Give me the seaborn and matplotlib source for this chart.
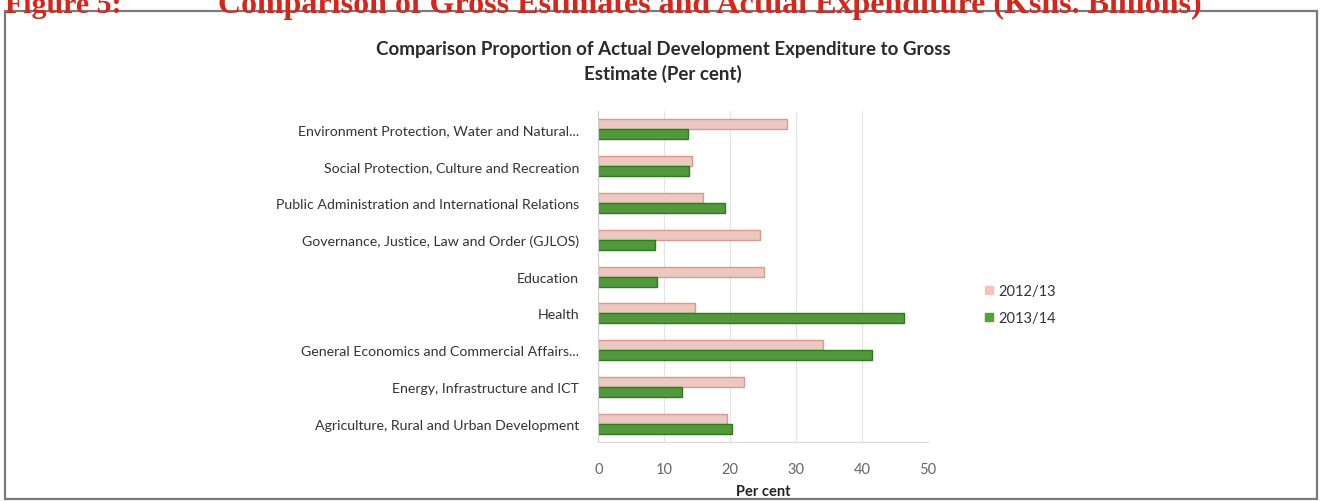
import numpy as np
import pandas as pd
import matplotlib
matplotlib.use('Agg')
import matplotlib.pyplot as plt
import seaborn as sns
from matplotlib.patches import Rectangle
from matplotlib.lines import Line2D

# data (per cent)
sectors = [
    "Environment Protection, Water and Natural...",
    "Social Protection, Culture and Recreation",
    "Public Administration and International Relations",
    "Governance, Justice, Law and Order (GJLOS)",
    "Education",
    "Health",
    "General Economics and Commercial Affairs...",
    "Energy, Infrastructure and ICT",
    "Agriculture, Rural and Urban Development",
]
years = ["2012/13", "2013/14"]
vals_1213 = [28.6, 14.2, 15.9, 24.5, 25.1, 14.7, 34.1, 22.1, 19.5]
vals_1314 = [13.6, 13.8, 19.2, 8.6, 8.9, 46.4, 41.5, 12.7, 20.2]
xticks = [0, 10, 20, 30, 40, 50]

pink = "#F5C3B8"
pink_edge = "#D8988C"
green = "#4AA82E"
green_edge = "#2E7A1C"

df = pd.DataFrame({
    "sector": sectors * 2,
    "year": [years[0]] * len(sectors) + [years[1]] * len(sectors),
    "value": vals_1213 + vals_1314,
})

sns.set_style("white")
plt.rcParams['font.family'] = ['Lato', 'DejaVu Sans']

fig = plt.figure(figsize=(13.24, 5.02), dpi=100)
ax = fig.add_axes([0.452, 0.117, 0.249, 0.66])

sns.barplot(data=df, x="value", y="sector", hue="year", hue_order=years,
            order=sectors, orient="h", palette=[pink, green], width=0.54,
            ax=ax, legend=False, errorbar=None)

# edges to give the bars a bit of the bevelled look
for patch in ax.patches:
    fc = patch.get_facecolor()
    patch.set_edgecolor(pink_edge if fc[1] > 0.6 else green_edge)
    patch.set_linewidth(1.0)

ax.set_xlim(0, 50)
ax.set_xticks(xticks)
ax.set_xticklabels([str(t) for t in xticks], fontsize=10.5, color="#666666")
ax.tick_params(axis="x", length=0, pad=14)
ax.tick_params(axis="y", length=0, pad=14, labelsize=10.2, labelcolor="#333333")
ax.set_ylabel("")
ax.set_xlabel("Per cent", fontsize=10.5, fontweight="bold", color="#222222", labelpad=6)
ax.grid(axis="x", color="#E4E4E4", linewidth=0.9)
ax.set_axisbelow(True)
for side in ["top", "right"]:
    ax.spines[side].set_visible(False)
ax.spines["left"].set_color("#D0D0D0")
ax.spines["bottom"].set_color("#D8D8D8")

# small ticks between categories on the left axis
ax.set_yticks(np.arange(-0.5, len(sectors), 1.0), minor=True)
ax.tick_params(axis="y", which="minor", length=4, color="#C8C8C8", direction="out")

# chart title
fig.text(0.501, 0.902, "Comparison Proportion of Actual Development Expenditure to Gross",
         ha="center", va="center", fontsize=13.5, fontweight="bold", color="#2A2A2A")
fig.text(0.501, 0.853, "Estimate (Per cent)",
         ha="center", va="center", fontsize=13.5, fontweight="bold", color="#2A2A2A")

# legend
handles = [Line2D([], [], marker="s", linestyle="", markersize=6,
                  markerfacecolor=c, markeredgecolor=c) for c in [pink, green]]
fig.legend(handles, years, loc="upper left", bbox_to_anchor=(0.733, 0.458),
           frameon=False, fontsize=10.5, handletextpad=0.2, labelspacing=0.9,
           handlelength=0.8, labelcolor="#333333")

# frame around the chart area
fig.patches.append(Rectangle((0.004, 0.004), 0.991, 0.972, transform=fig.transFigure,
                             fill=False, edgecolor="#7A7A7A", linewidth=1.6))

# red heading of the page, cut at the top in the scan
serif = ["Liberation Serif", "DejaVu Serif"]
fig.text(0.004, 0.975, "Figure 5:", ha="left", va="baseline", fontsize=21.5,
         fontweight="bold", color="#D4261B", family=serif)
fig.text(0.165, 0.975, "Comparison of Gross Estimates and Actual Expenditure (Kshs. Billions)",
         ha="left", va="baseline", fontsize=23, fontweight="bold", color="#D4261B",
         family=serif)

fig.savefig("out.png", dpi=100)
